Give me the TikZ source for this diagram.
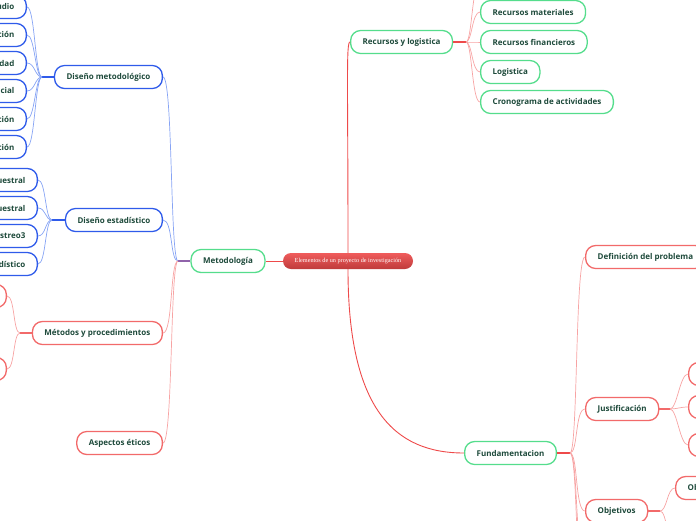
\documentclass[tikz,border=0pt]{standalone}
\usepackage{fontspec}
\setsansfont{Open Sans}
\newfontfamily\rootfont{Liberation Serif}
\usetikzlibrary{positioning}
\definecolor{txt}{HTML}{1E4A3B}
\definecolor{mgreen}{HTML}{55DD8C}
\definecolor{mblue}{HTML}{2F5BEA}
\definecolor{mred}{HTML}{F26A6A}
\definecolor{lblue}{HTML}{86A3F4}
\definecolor{lred}{HTML}{F7A3A3}
\definecolor{rootred}{HTML}{EE4A4A}
\begin{document}
\begin{tikzpicture}[x=1pt,y=-1pt]
	\tikzstyle{topic}=[draw,line width=1.3pt,rounded corners=10pt,fill=white,minimum height=23pt,inner xsep=12pt,inner ysep=0pt,text=txt,font=\sffamily\bfseries\fontsize{8}{9}\selectfont]
	\tikzstyle{gtopic}=[topic,draw=mgreen]
	\tikzstyle{btopic}=[topic,draw=mblue]
	\tikzstyle{rtopic}=[topic,draw=mred]
	\tikzstyle{bline}=[draw=lblue,line width=0.7pt]
	\tikzstyle{rline}=[draw=lred,line width=0.7pt]
	\tikzstyle{root}=[rounded corners=8pt,top color=rootred!90,bottom color=rootred!80!black,minimum height=16pt,minimum width=130pt,inner sep=0pt,text=white,font=\rootfont\fontsize{6.2}{7}\selectfont]
	\useasboundingbox (0,0) rectangle (696,520);
	\clip (0,0) rectangle (696,520);

	% connectors of the first level
	\begin{scope}
		\coordinate (jmet) at (178,261);
		\coordinate (jrl) at (466,42);
		\coordinate (jfu) at (570,453);
		\coordinate (jdm) at (42,77);
		\coordinate (jde) at (52,220);
		\coordinate (jmp) at (20,333);
		\coordinate (jju) at (670,409);
		\coordinate (job) at (660,511);
	\end{scope}

	\node[root] (root) at (348,261) {Elementos de un proyecto de investigación};

	% Metodologia
	\node[gtopic] (met) at (228,261) {Metodología};
	\node[btopic,anchor=east] (dm) at (163,77) {Diseño metodológico};
	\node[btopic,anchor=east] (de) at (163,220) {Diseño estadístico};
	\node[rtopic,anchor=east] (mp) at (163,333) {Métodos y procedimientos};
	\node[rtopic,anchor=east] (ae) at (163,443) {Aspectos éticos};
	\draw[draw=rootred,line width=0.9pt] (root.west) -- (met.east);
	\draw[draw=mblue!50!mred,line width=1.3pt] (met.west) -- (jmet);
	\draw[bline] (jmet) .. controls +(-8,0) and +(10,0) .. (dm.east);
	\draw[bline] (jmet) .. controls +(-8,0) and +(10,0) .. (de.east);
	\draw[rline] (jmet) .. controls +(-8,0) and +(10,0) .. (mp.east);
	\draw[rline] (jmet) .. controls +(-8,0) and +(10,0) .. (ae.east);

	\draw[draw=mblue,line width=1.3pt] (dm.west) -- (jdm);
	\foreach \y/\t [count=\i] in {7/Tipo de estudio,35/Línea de investigación,63/Comunidad,91/Ámbito espacial,119/Técnica de recolección,147/Instrumento de validación}{
		\node[btopic,anchor=east] (dm\i) at (27,\y) {\t};
		\draw[bline] (jdm) .. controls +(-7,0) and +(8,0) .. (dm\i.east);
	}

	\draw[draw=mblue,line width=1.3pt] (de.west) -- (jde);
	\foreach \y/\t [count=\i] in {180/Unidad muestral,208/Marco muestral,236/Tipo de muestreo3,264/Análisis estadístico}{
		\node[btopic,anchor=east] (de\i) at (38,\y) {\t};
		\draw[bline] (jde) .. controls +(-7,0) and +(8,0) .. (de\i.east);
	}

	\draw[draw=mred,line width=1.3pt] (mp.west) -- (jmp);
	\foreach \y [count=\i] in {296,369}{
		\node[rtopic,anchor=east,minimum width=60pt] (mp\i) at (7,\y) {};
		\draw[rline] (jmp) .. controls +(-7,0) and +(8,0) .. (mp\i.east);
	}

	% Recursos y logistica
	\node[gtopic,anchor=west] (rl) at (350,42) {Recursos y logistica};
	\draw[draw=rootred,line width=0.9pt] (root.north) .. controls +(0,-170) and +(-4,0) .. (rl.west);
	\draw[draw=rootred,line width=1.3pt] (rl.east) -- (jrl);
	\coordinate (rl0) at (480,-18);
	\draw[rline] (jrl) .. controls +(6,0) and +(-8,0) .. (rl0);
	\foreach \y/\t [count=\i] in {12/Recursos materiales,42/Recursos financieros,72/Logistica,102/Cronograma de actividades}{
		\node[gtopic,anchor=west] (rl\i) at (480,\y) {\t};
		\draw[rline] (jrl) .. controls +(6,0) and +(-8,0) .. (rl\i.west);
	}

	% Fundamentacion
	\node[gtopic,anchor=west] (fu) at (464,453) {Fundamentacion};
	\draw[draw=rootred,line width=0.9pt] (root.south) .. controls (348,410) and (395,453) .. (fu.west);
	\draw[draw=rootred,line width=1.3pt] (fu.east) -- (jfu);
	\node[rtopic,anchor=west] (dp) at (585,257) {Definición del problema};
	\node[rtopic,anchor=west] (ju) at (585,409) {Justificación};
	\node[rtopic,anchor=west] (ob) at (585,511) {Objetivos};
	\coordinate (fu4) at (585,560);
	\coordinate (fu5) at (585,600);
	\foreach \n in {dp,ju,ob}{
		\draw[rline] (jfu) .. controls +(8,0) and +(-10,0) .. (\n.west);
	}
	\draw[rline] (jfu) .. controls +(8,0) and +(-10,0) .. (fu4);
	\draw[rline] (jfu) .. controls +(8,0) and +(-10,0) .. (fu5);

	\draw[draw=mred,line width=1.3pt] (ju.east) -- (jju);
	\foreach \y [count=\i] in {374,407,445}{
		\node[rtopic,anchor=west,minimum width=60pt] (ju\i) at (688,\y) {};
		\draw[rline] (jju) .. controls +(7,0) and +(-8,0) .. (ju\i.west);
	}

	\draw[draw=mred,line width=1.3pt] (ob.east) -- (job);
	\node[rtopic,anchor=west] (ob1) at (675,488) {Objetivo general};
	\coordinate (ob2) at (675,545);
	\draw[rline] (job) .. controls +(7,0) and +(-8,0) .. (ob1.west);
	\draw[rline] (job) .. controls +(7,0) and +(-8,0) .. (ob2);
\end{tikzpicture}
\end{document}
